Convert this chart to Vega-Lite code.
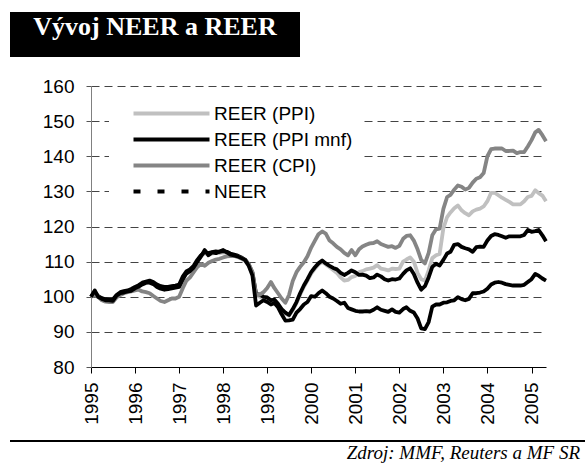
{
  "$schema": "https://vega.github.io/schema/vega-lite/v6.json",
  "background": "white",
  "padding": {"left": 10, "top": 12, "right": 0, "bottom": 0},
  "autosize": {"type": "pad"},
  "spacing": 10,
  "resolve": {"legend": {"color": "independent"}},
  "config": {
    "font": "Liberation Sans",
    "view": {"stroke": null}
  },
  "vconcat": [
    {
      "width": 290,
      "height": 45,
      "view": {"fill": "black", "stroke": null},
      "data": {"values": [{"t": "Vývoj NEER a REER"}]},
      "mark": {"type": "text", "font": "Liberation Serif", "fontWeight": "bold", "fontSize": 26, "color": "white", "align": "center", "baseline": "alphabetic"},
      "encoding": {"text": {"field": "t"}}
    },
    {
      "width": 536,
      "height": 281,
      "data": {"values": [
        {"d":"1995-01-01","REER (PPI)":100,"REER (PPI mnf)":100,"REER (CPI)":100,"NEER":100},
        {"d":"1995-02-01","REER (PPI)":100.9,"REER (PPI mnf)":101.2,"REER (CPI)":100.5,"NEER":101.8},
        {"d":"1995-03-01","REER (PPI)":100.0,"REER (PPI mnf)":100.2,"REER (CPI)":100.0,"NEER":100.0},
        {"d":"1995-04-01","REER (PPI)":99.4,"REER (PPI mnf)":99.6,"REER (CPI)":99.0,"NEER":99.4},
        {"d":"1995-05-01","REER (PPI)":99.1,"REER (PPI mnf)":99.3,"REER (CPI)":98.6,"NEER":99.0},
        {"d":"1995-06-01","REER (PPI)":99.0,"REER (PPI mnf)":99.2,"REER (CPI)":98.5,"NEER":99.0},
        {"d":"1995-07-01","REER (PPI)":99.0,"REER (PPI mnf)":99.2,"REER (CPI)":98.5,"NEER":98.8},
        {"d":"1995-08-01","REER (PPI)":100.2,"REER (PPI mnf)":100.5,"REER (CPI)":99.8,"NEER":100.3},
        {"d":"1995-09-01","REER (PPI)":101.0,"REER (PPI mnf)":101.3,"REER (CPI)":100.5,"NEER":101.0},
        {"d":"1995-10-01","REER (PPI)":101.3,"REER (PPI mnf)":101.6,"REER (CPI)":101.0,"NEER":101.2},
        {"d":"1995-11-01","REER (PPI)":101.5,"REER (PPI mnf)":101.8,"REER (CPI)":101.3,"NEER":101.5},
        {"d":"1995-12-01","REER (PPI)":101.9,"REER (PPI mnf)":102.2,"REER (CPI)":101.5,"NEER":101.7},
        {"d":"1996-01-01","REER (PPI)":102.5,"REER (PPI mnf)":102.8,"REER (CPI)":101.8,"NEER":102.4},
        {"d":"1996-02-01","REER (PPI)":103.0,"REER (PPI mnf)":103.3,"REER (CPI)":102.0,"NEER":102.9},
        {"d":"1996-03-01","REER (PPI)":103.6,"REER (PPI mnf)":104.0,"REER (CPI)":101.5,"NEER":103.5},
        {"d":"1996-04-01","REER (PPI)":103.9,"REER (PPI mnf)":104.3,"REER (CPI)":101.3,"NEER":104.0},
        {"d":"1996-05-01","REER (PPI)":104.2,"REER (PPI mnf)":104.6,"REER (CPI)":101.0,"NEER":104.0},
        {"d":"1996-06-01","REER (PPI)":103.8,"REER (PPI mnf)":104.2,"REER (CPI)":100.2,"NEER":103.6},
        {"d":"1996-07-01","REER (PPI)":103.1,"REER (PPI mnf)":103.5,"REER (CPI)":99.5,"NEER":102.8},
        {"d":"1996-08-01","REER (PPI)":102.6,"REER (PPI mnf)":103.0,"REER (CPI)":98.8,"NEER":102.3},
        {"d":"1996-09-01","REER (PPI)":102.4,"REER (PPI mnf)":102.8,"REER (CPI)":98.5,"NEER":102.0},
        {"d":"1996-10-01","REER (PPI)":102.4,"REER (PPI mnf)":102.8,"REER (CPI)":99.0,"NEER":102.2},
        {"d":"1996-11-01","REER (PPI)":102.6,"REER (PPI mnf)":103.0,"REER (CPI)":99.5,"NEER":102.4},
        {"d":"1996-12-01","REER (PPI)":102.8,"REER (PPI mnf)":103.2,"REER (CPI)":99.5,"NEER":102.6},
        {"d":"1997-01-01","REER (PPI)":103.1,"REER (PPI mnf)":103.5,"REER (CPI)":100.0,"NEER":102.8},
        {"d":"1997-02-01","REER (PPI)":105.4,"REER (PPI mnf)":105.8,"REER (CPI)":102.5,"NEER":105.0},
        {"d":"1997-03-01","REER (PPI)":106.8,"REER (PPI mnf)":107.2,"REER (CPI)":104.5,"NEER":106.6},
        {"d":"1997-04-01","REER (PPI)":107.4,"REER (PPI mnf)":107.8,"REER (CPI)":105.5,"NEER":107.3},
        {"d":"1997-05-01","REER (PPI)":108.4,"REER (PPI mnf)":108.8,"REER (CPI)":107.0,"NEER":108.3},
        {"d":"1997-06-01","REER (PPI)":110.1,"REER (PPI mnf)":110.5,"REER (CPI)":108.5,"NEER":110.0},
        {"d":"1997-07-01","REER (PPI)":111.4,"REER (PPI mnf)":111.8,"REER (CPI)":109.3,"NEER":111.5},
        {"d":"1997-08-01","REER (PPI)":112.4,"REER (PPI mnf)":112.8,"REER (CPI)":108.8,"NEER":113.3},
        {"d":"1997-09-01","REER (PPI)":112.0,"REER (PPI mnf)":112.4,"REER (CPI)":109.7,"NEER":111.8},
        {"d":"1997-10-01","REER (PPI)":112.3,"REER (PPI mnf)":112.7,"REER (CPI)":110.2,"NEER":112.6},
        {"d":"1997-11-01","REER (PPI)":112.5,"REER (PPI mnf)":112.9,"REER (CPI)":110.6,"NEER":112.4},
        {"d":"1997-12-01","REER (PPI)":112.4,"REER (PPI mnf)":112.8,"REER (CPI)":110.8,"NEER":112.9},
        {"d":"1998-01-01","REER (PPI)":112.6,"REER (PPI mnf)":113.0,"REER (CPI)":111.2,"NEER":113.3},
        {"d":"1998-02-01","REER (PPI)":112.4,"REER (PPI mnf)":112.8,"REER (CPI)":111.5,"NEER":112.6},
        {"d":"1998-03-01","REER (PPI)":111.9,"REER (PPI mnf)":112.3,"REER (CPI)":111.6,"NEER":112.0},
        {"d":"1998-04-01","REER (PPI)":111.6,"REER (PPI mnf)":112.0,"REER (CPI)":111.6,"NEER":111.8},
        {"d":"1998-05-01","REER (PPI)":111.3,"REER (PPI mnf)":111.7,"REER (CPI)":111.4,"NEER":111.5},
        {"d":"1998-06-01","REER (PPI)":110.8,"REER (PPI mnf)":111.2,"REER (CPI)":111.0,"NEER":111.0},
        {"d":"1998-07-01","REER (PPI)":110.2,"REER (PPI mnf)":110.6,"REER (CPI)":110.4,"NEER":110.5},
        {"d":"1998-08-01","REER (PPI)":108.8,"REER (PPI mnf)":109.2,"REER (CPI)":109.3,"NEER":108.8},
        {"d":"1998-09-01","REER (PPI)":106.4,"REER (PPI mnf)":106.8,"REER (CPI)":107.0,"NEER":106.0},
        {"d":"1998-10-01","REER (PPI)":100.3,"REER (PPI mnf)":100.8,"REER (CPI)":100.5,"NEER":97.5},
        {"d":"1998-11-01","REER (PPI)":100.0,"REER (PPI mnf)":100.6,"REER (CPI)":100.6,"NEER":98.3},
        {"d":"1998-12-01","REER (PPI)":99.5,"REER (PPI mnf)":100.0,"REER (CPI)":101.3,"NEER":99.0},
        {"d":"1999-01-01","REER (PPI)":99.3,"REER (PPI mnf)":99.8,"REER (CPI)":102.5,"NEER":98.5},
        {"d":"1999-02-01","REER (PPI)":98.6,"REER (PPI mnf)":99.0,"REER (CPI)":104.2,"NEER":97.8},
        {"d":"1999-03-01","REER (PPI)":98.8,"REER (PPI mnf)":99.2,"REER (CPI)":102.5,"NEER":98.2},
        {"d":"1999-04-01","REER (PPI)":97.6,"REER (PPI mnf)":98.0,"REER (CPI)":101.0,"NEER":97.0},
        {"d":"1999-05-01","REER (PPI)":96.2,"REER (PPI mnf)":96.5,"REER (CPI)":99.5,"NEER":95.0},
        {"d":"1999-06-01","REER (PPI)":95.2,"REER (PPI mnf)":95.5,"REER (CPI)":98.3,"NEER":93.2},
        {"d":"1999-07-01","REER (PPI)":94.6,"REER (PPI mnf)":94.8,"REER (CPI)":100.5,"NEER":93.3},
        {"d":"1999-08-01","REER (PPI)":96.2,"REER (PPI mnf)":96.5,"REER (CPI)":104.5,"NEER":93.5},
        {"d":"1999-09-01","REER (PPI)":98.2,"REER (PPI mnf)":98.5,"REER (CPI)":107.0,"NEER":95.5},
        {"d":"1999-10-01","REER (PPI)":100.6,"REER (PPI mnf)":101.0,"REER (CPI)":108.5,"NEER":96.5},
        {"d":"1999-11-01","REER (PPI)":102.8,"REER (PPI mnf)":103.2,"REER (CPI)":109.8,"NEER":97.8},
        {"d":"1999-12-01","REER (PPI)":104.6,"REER (PPI mnf)":105.0,"REER (CPI)":111.5,"NEER":98.5},
        {"d":"2000-01-01","REER (PPI)":106.6,"REER (PPI mnf)":107.0,"REER (CPI)":114.0,"NEER":100.2},
        {"d":"2000-02-01","REER (PPI)":108.0,"REER (PPI mnf)":108.4,"REER (CPI)":116.0,"NEER":100.0},
        {"d":"2000-03-01","REER (PPI)":109.2,"REER (PPI mnf)":109.5,"REER (CPI)":117.8,"NEER":101.0},
        {"d":"2000-04-01","REER (PPI)":110.0,"REER (PPI mnf)":110.3,"REER (CPI)":118.6,"NEER":101.8},
        {"d":"2000-05-01","REER (PPI)":109.2,"REER (PPI mnf)":109.5,"REER (CPI)":118.0,"NEER":101.0},
        {"d":"2000-06-01","REER (PPI)":108.4,"REER (PPI mnf)":108.8,"REER (CPI)":116.0,"NEER":100.0},
        {"d":"2000-07-01","REER (PPI)":107.6,"REER (PPI mnf)":108.2,"REER (CPI)":115.2,"NEER":99.5},
        {"d":"2000-08-01","REER (PPI)":106.8,"REER (PPI mnf)":107.8,"REER (CPI)":114.2,"NEER":98.8},
        {"d":"2000-09-01","REER (PPI)":105.5,"REER (PPI mnf)":106.8,"REER (CPI)":113.5,"NEER":98.0},
        {"d":"2000-10-01","REER (PPI)":104.6,"REER (PPI mnf)":106.2,"REER (CPI)":112.5,"NEER":98.3},
        {"d":"2000-11-01","REER (PPI)":104.8,"REER (PPI mnf)":106.8,"REER (CPI)":111.8,"NEER":96.8},
        {"d":"2000-12-01","REER (PPI)":105.6,"REER (PPI mnf)":107.5,"REER (CPI)":113.3,"NEER":96.4},
        {"d":"2001-01-01","REER (PPI)":105.9,"REER (PPI mnf)":107.0,"REER (CPI)":111.8,"NEER":96.0},
        {"d":"2001-02-01","REER (PPI)":107.0,"REER (PPI mnf)":106.2,"REER (CPI)":113.5,"NEER":95.8},
        {"d":"2001-03-01","REER (PPI)":107.3,"REER (PPI mnf)":106.3,"REER (CPI)":114.3,"NEER":95.8},
        {"d":"2001-04-01","REER (PPI)":107.8,"REER (PPI mnf)":106.0,"REER (CPI)":114.8,"NEER":95.9},
        {"d":"2001-05-01","REER (PPI)":108.0,"REER (PPI mnf)":105.3,"REER (CPI)":115.2,"NEER":95.8},
        {"d":"2001-06-01","REER (PPI)":108.3,"REER (PPI mnf)":105.5,"REER (CPI)":115.3,"NEER":96.3},
        {"d":"2001-07-01","REER (PPI)":109.0,"REER (PPI mnf)":106.3,"REER (CPI)":115.8,"NEER":97.0},
        {"d":"2001-08-01","REER (PPI)":108.0,"REER (PPI mnf)":105.8,"REER (CPI)":115.0,"NEER":96.3},
        {"d":"2001-09-01","REER (PPI)":107.8,"REER (PPI mnf)":105.0,"REER (CPI)":114.6,"NEER":96.0},
        {"d":"2001-10-01","REER (PPI)":107.5,"REER (PPI mnf)":104.6,"REER (CPI)":114.2,"NEER":95.7},
        {"d":"2001-11-01","REER (PPI)":108.0,"REER (PPI mnf)":105.0,"REER (CPI)":114.4,"NEER":96.4},
        {"d":"2001-12-01","REER (PPI)":107.9,"REER (PPI mnf)":104.9,"REER (CPI)":113.9,"NEER":95.7},
        {"d":"2002-01-01","REER (PPI)":108.0,"REER (PPI mnf)":105.2,"REER (CPI)":114.5,"NEER":95.5},
        {"d":"2002-02-01","REER (PPI)":110.0,"REER (PPI mnf)":106.5,"REER (CPI)":116.5,"NEER":96.5},
        {"d":"2002-03-01","REER (PPI)":110.6,"REER (PPI mnf)":107.5,"REER (CPI)":117.3,"NEER":97.0},
        {"d":"2002-04-01","REER (PPI)":111.2,"REER (PPI mnf)":108.1,"REER (CPI)":117.5,"NEER":96.0},
        {"d":"2002-05-01","REER (PPI)":110.0,"REER (PPI mnf)":106.5,"REER (CPI)":116.0,"NEER":95.5},
        {"d":"2002-06-01","REER (PPI)":106.8,"REER (PPI mnf)":104.0,"REER (CPI)":113.5,"NEER":93.8},
        {"d":"2002-07-01","REER (PPI)":105.0,"REER (PPI mnf)":102.0,"REER (CPI)":110.5,"NEER":91.0},
        {"d":"2002-08-01","REER (PPI)":104.6,"REER (PPI mnf)":103.0,"REER (CPI)":109.5,"NEER":90.8},
        {"d":"2002-09-01","REER (PPI)":107.5,"REER (PPI mnf)":105.5,"REER (CPI)":112.5,"NEER":92.8},
        {"d":"2002-10-01","REER (PPI)":111.0,"REER (PPI mnf)":108.5,"REER (CPI)":117.5,"NEER":97.2},
        {"d":"2002-11-01","REER (PPI)":111.8,"REER (PPI mnf)":109.4,"REER (CPI)":119.2,"NEER":97.8},
        {"d":"2002-12-01","REER (PPI)":112.2,"REER (PPI mnf)":108.9,"REER (CPI)":119.4,"NEER":97.8},
        {"d":"2003-01-01","REER (PPI)":119.5,"REER (PPI mnf)":110.5,"REER (CPI)":125.0,"NEER":98.3},
        {"d":"2003-02-01","REER (PPI)":122.7,"REER (PPI mnf)":112.3,"REER (CPI)":128.4,"NEER":98.4},
        {"d":"2003-03-01","REER (PPI)":124.0,"REER (PPI mnf)":112.8,"REER (CPI)":129.0,"NEER":98.8},
        {"d":"2003-04-01","REER (PPI)":125.2,"REER (PPI mnf)":114.8,"REER (CPI)":130.5,"NEER":99.0},
        {"d":"2003-05-01","REER (PPI)":126.0,"REER (PPI mnf)":115.0,"REER (CPI)":131.7,"NEER":99.9},
        {"d":"2003-06-01","REER (PPI)":124.6,"REER (PPI mnf)":114.2,"REER (CPI)":131.3,"NEER":99.3},
        {"d":"2003-07-01","REER (PPI)":123.8,"REER (PPI mnf)":113.8,"REER (CPI)":130.5,"NEER":99.0},
        {"d":"2003-08-01","REER (PPI)":123.2,"REER (PPI mnf)":113.5,"REER (CPI)":131.0,"NEER":99.4},
        {"d":"2003-09-01","REER (PPI)":124.3,"REER (PPI mnf)":112.8,"REER (CPI)":132.5,"NEER":101.0},
        {"d":"2003-10-01","REER (PPI)":124.8,"REER (PPI mnf)":114.1,"REER (CPI)":133.6,"NEER":101.0},
        {"d":"2003-11-01","REER (PPI)":125.1,"REER (PPI mnf)":114.3,"REER (CPI)":134.0,"NEER":101.2},
        {"d":"2003-12-01","REER (PPI)":125.7,"REER (PPI mnf)":114.2,"REER (CPI)":135.2,"NEER":101.5},
        {"d":"2004-01-01","REER (PPI)":127.2,"REER (PPI mnf)":116.0,"REER (CPI)":140.0,"NEER":102.3},
        {"d":"2004-02-01","REER (PPI)":129.6,"REER (PPI mnf)":117.3,"REER (CPI)":142.0,"NEER":103.5},
        {"d":"2004-03-01","REER (PPI)":129.6,"REER (PPI mnf)":117.8,"REER (CPI)":142.2,"NEER":104.0},
        {"d":"2004-04-01","REER (PPI)":128.9,"REER (PPI mnf)":117.6,"REER (CPI)":142.2,"NEER":104.2},
        {"d":"2004-05-01","REER (PPI)":128.2,"REER (PPI mnf)":117.2,"REER (CPI)":142.2,"NEER":104.0},
        {"d":"2004-06-01","REER (PPI)":127.6,"REER (PPI mnf)":116.8,"REER (CPI)":141.5,"NEER":103.6},
        {"d":"2004-07-01","REER (PPI)":127.0,"REER (PPI mnf)":117.2,"REER (CPI)":141.5,"NEER":103.4},
        {"d":"2004-08-01","REER (PPI)":126.3,"REER (PPI mnf)":117.2,"REER (CPI)":141.6,"NEER":103.2},
        {"d":"2004-09-01","REER (PPI)":126.3,"REER (PPI mnf)":117.2,"REER (CPI)":140.9,"NEER":103.2},
        {"d":"2004-10-01","REER (PPI)":126.3,"REER (PPI mnf)":117.2,"REER (CPI)":141.2,"NEER":103.2},
        {"d":"2004-11-01","REER (PPI)":127.2,"REER (PPI mnf)":117.6,"REER (CPI)":141.2,"NEER":103.4},
        {"d":"2004-12-01","REER (PPI)":128.4,"REER (PPI mnf)":119.0,"REER (CPI)":142.8,"NEER":104.2},
        {"d":"2005-01-01","REER (PPI)":128.7,"REER (PPI mnf)":118.5,"REER (CPI)":144.6,"NEER":105.0},
        {"d":"2005-02-01","REER (PPI)":130.3,"REER (PPI mnf)":118.7,"REER (CPI)":146.8,"NEER":106.5},
        {"d":"2005-03-01","REER (PPI)":129.5,"REER (PPI mnf)":119.0,"REER (CPI)":147.5,"NEER":106.0},
        {"d":"2005-04-01","REER (PPI)":128.8,"REER (PPI mnf)":117.5,"REER (CPI)":146.0,"NEER":105.2},
        {"d":"2005-05-01","REER (PPI)":127.2,"REER (PPI mnf)":115.8,"REER (CPI)":144.3,"NEER":104.6}
      ]},
      "transform": [
        {"fold": ["REER (PPI)", "REER (PPI mnf)", "REER (CPI)", "NEER"], "as": ["series", "value"]}
      ],
      "mark": {"type": "line", "strokeWidth": 3.8, "strokeJoin": "round"},
      "encoding": {
        "x": {
          "field": "d", "type": "temporal",
          "scale": {"type": "utc", "range": [81, 536], "domain": [{"year": 1995, "month": 1, "date": 1, "utc": true}, {"year": 2005, "month": 5, "date": 1, "utc": true}]},
          "axis": {
            "title": null, "format": "%Y", "tickCount": {"interval": "year", "step": 1},
            "labelAngle": 270, "labelAlign": "right", "labelBaseline": "middle",
            "labelPadding": 9, "tickSize": 6, "tickColor": "black", "domainColor": "black",
            "grid": false, "labelFontSize": 19, "labelColor": "black", "labelFont": "Liberation Sans",
            "labelFlush": false, "labelOverlap": false
          }
        },
        "y": {
          "field": "value", "type": "quantitative",
          "scale": {"domain": [80, 160], "nice": false},
          "axis": {
            "offset": -81,
            "title": " ", "titleX": -30, "titleY": -19, "titleAngle": 0, "titleAlign": "left", "titleBaseline": "top", "titleFontSize": 10,
            "values": [80, 90, 100, 110, 120, 130, 140, 150, 160],
            "grid": true, "gridDash": [8, 5], "gridColor": "#444444", "gridWidth": 1,
            "tickSize": 5, "tickColor": "#555555", "domainColor": "#808080",
            "labelPadding": 12, "labelFontSize": 19, "labelColor": "black", "labelFont": "Liberation Sans"
          }
        },
        "color": {
          "field": "series", "type": "nominal",
          "scale": {"domain": ["REER (PPI)", "REER (PPI mnf)", "REER (CPI)", "NEER"], "range": ["#c0c0c0", "#000000", "#858585", "#000000"]},
          "legend": {
            "title": null, "orient": "none", "legendX": 99, "legendY": 9,
            "symbolType": "M0,0H8", "symbolSize": 361, "symbolStrokeWidth": 4, "symbolOffset": 6,
            "labelFontSize": 19, "labelFont": "Liberation Sans", "labelColor": "black", "labelOffset": 69,
            "rowPadding": 4, "fillColor": "white", "padding": 7,
            "encode": {"symbols": {"update": {"strokeDash": {"signal": "datum.value === 'NEER' ? [7, 17] : [1, 0]"}}}}
          }
        }
      }
    },
    {
      "width": 575,
      "height": 2,
      "view": {"fill": "black", "stroke": null},
      "title": {"text": "Zdroj: MMF, Reuters a MF SR", "orient": "bottom", "anchor": "end", "font": "Liberation Serif", "fontStyle": "italic", "fontWeight": "normal", "fontSize": 19, "color": "black", "offset": -2, "dx": -5},
      "data": {"values": [{"t": ""}]},
      "mark": {"type": "text"},
      "encoding": {"text": {"field": "t"}}
    }
  ]
}
